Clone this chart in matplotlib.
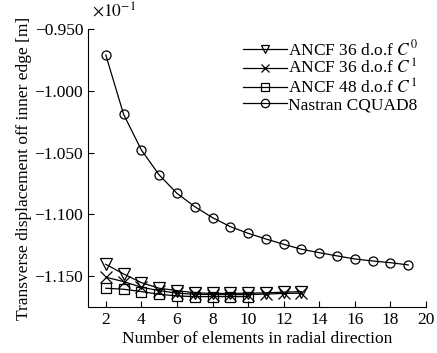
import matplotlib
matplotlib.use("Agg")
import matplotlib.pyplot as plt

# transverse displacement of the inner edge, in units of 1e-1 m
n_nastran = list(range(2, 20))
disp_nastran = [-0.9708, -1.0189, -1.0478, -1.0680, -1.0829, -1.0937, -1.1026,
                -1.1099, -1.1153, -1.1199, -1.1242, -1.1282, -1.1310, -1.1336,
                -1.1361, -1.1377, -1.1391, -1.1409]

n_ancf36 = list(range(2, 14))
disp_ancf36_c0 = [-1.1404, -1.1482, -1.1553, -1.1598, -1.1617, -1.1635, -1.1640,
                  -1.1640, -1.1638, -1.1635, -1.1630, -1.1625]
disp_ancf36_c1 = [-1.1509, -1.1544, -1.1590, -1.1617, -1.1638, -1.1647, -1.1650,
                  -1.1650, -1.1650, -1.1645, -1.1640, -1.1638]

n_ancf48 = list(range(2, 11))
disp_ancf48_c1 = [-1.1598, -1.1606, -1.1625, -1.1647, -1.1660, -1.1666, -1.1666,
                  -1.1666, -1.1666]

labels = [r"ANCF 36 d.o.f $C^0$", r"ANCF 36 d.o.f $C^1$",
          r"ANCF 48 d.o.f $C^1$", "Nastran CQUAD8"]
yticks = [-0.95, -1.0, -1.05, -1.1, -1.15]
xticks = list(range(2, 21, 2))

plt.rcParams["font.family"] = ["Liberation Serif", "DejaVu Serif"]
plt.rcParams["mathtext.fontset"] = "stix"
plt.rcParams["font.size"] = 12.5

fig = plt.figure(figsize=(4.37, 3.53), dpi=100)
ax = fig.add_axes([0.2014, 0.1303, 0.7735, 0.7867])

style = dict(color="black", linewidth=0.9, markerfacecolor="none",
             markeredgecolor="black", markeredgewidth=0.9)
ax.plot(n_ancf36, disp_ancf36_c0, marker="v", markersize=9, label=labels[0], **style)
ax.plot(n_ancf36, disp_ancf36_c1, marker="x", markersize=8, label=labels[1], **style)
ax.plot(n_ancf48, disp_ancf48_c1, marker="s", markersize=7.5, label=labels[2], **style)
ax.plot(n_nastran, disp_nastran, marker="o", markersize=6.5, label=labels[3], **style)

ax.set_xlim(1, 20)
ax.set_ylim(-1.175, -0.95)
ax.set_xticks(xticks)
ax.set_yticks(yticks)
ax.set_yticklabels([f"{v:.3f}".replace("-", "\u2212") for v in yticks])
ax.tick_params(direction="in", length=4, width=0.8)
for side in ("top", "right"):
    ax.spines[side].set_visible(False)
ax.spines["left"].set_linewidth(0.8)
ax.spines["bottom"].set_linewidth(0.8)

ax.set_xlabel("Number of elements in radial direction", labelpad=2)
ax.set_ylabel("Transverse displacement off inner edge [m]", labelpad=2)
ax.text(0.012, 1.03, r"$\times10^{-1}$", transform=ax.transAxes,
        ha="left", va="bottom")

leg = ax.legend(loc="upper right", bbox_to_anchor=(0.995, 0.99), frameon=False,
                handlelength=2.5, handletextpad=0.05, labelspacing=0.0,
                borderaxespad=0.0)
for h in leg.legend_handles:
    h.set_markersize(6)

fig.savefig("out.png", dpi=100)
